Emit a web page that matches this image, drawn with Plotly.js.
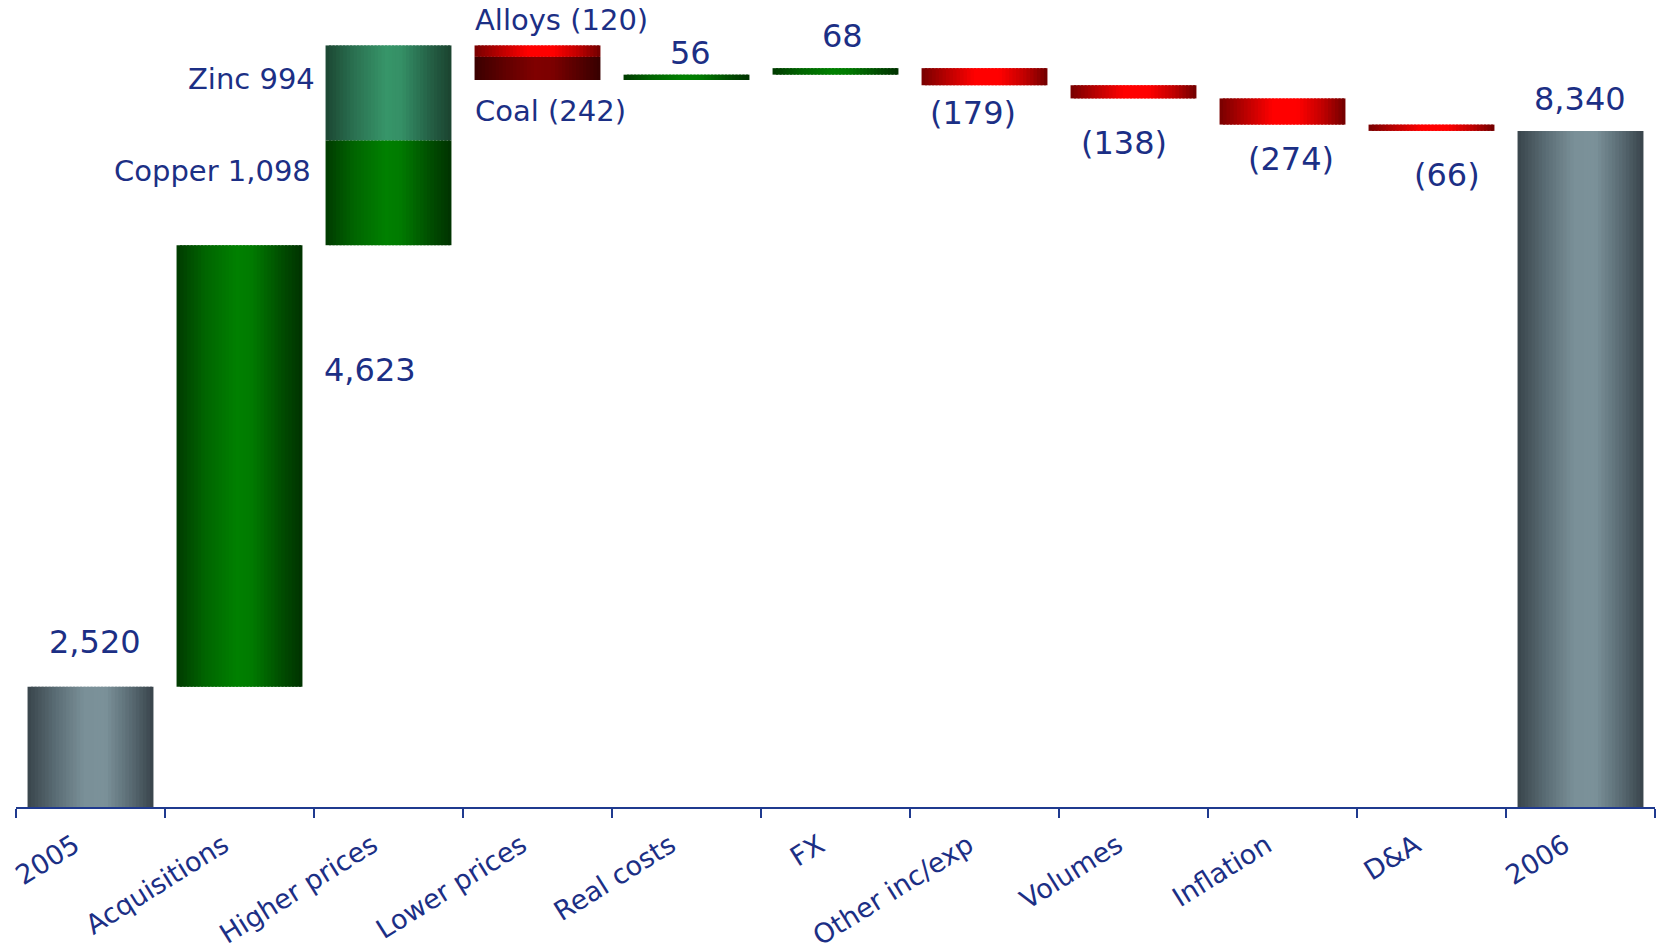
<!DOCTYPE html>
<html>
<head>
<meta charset="utf-8">
<script src="https://cdn.plot.ly/plotly-3.0.1.min.js"></script>
<style>
  html, body { margin: 0; padding: 0; background: #ffffff; }
  #chart { width: 1657px; height: 952px; }
</style>
</head>
<body>
<div id="chart"></div>
<script>
// ---------------- DATA ----------------
const categories = ['2005', 'Acquisitions', 'Higher prices', 'Lower prices', 'Real costs', 'FX',
                    'Other inc/exp', 'Volumes', 'Inflation', 'D&A', '2006'];
const values = [2520, 4623, 2092, -362, 56, 68, -179, -138, -274, -66, 8340];
const isTotal = [true, false, false, false, false, false, false, false, false, false, true];

// break-down of the two price bars
const higherPriceNames = ['Copper', 'Zinc'];
const higherPriceParts = [1098, 994];
const lowerPriceNames = ['Alloys', 'Coal'];
const lowerPriceParts = [-120, -242];

// ---------------- STYLE / LAYOUT HELPERS ----------------
const TEXT_COLOR = '#1c2f85';
const AXIS_COLOR = '#1f3a8f';
const FONT = 'DejaVu Sans, Verdana, sans-serif';
const BAR_W = 0.845;
const STRIPS = 36;

const palettes = {
  gray:  [[0, '#39444b'], [0.22, '#5a6c74'], [0.45, '#7a9098'], [0.62, '#7b9199'], [0.84, '#56676f'], [1, '#38434a']],
  green: [[0, '#003a00'], [0.22, '#006400'], [0.48, '#008000'], [0.6, '#007a00'], [0.84, '#004c00'], [1, '#003200']],
  teal:  [[0, '#1b4632'], [0.22, '#2a7050'], [0.48, '#379569'], [0.6, '#359066'], [0.84, '#245e44'], [1, '#1b432f']],
  red:   [[0, '#780000'], [0.25, '#c80000'], [0.42, '#ff0000'], [0.62, '#ff0000'], [0.82, '#c00000'], [1, '#700000']],
  dark:  [[0, '#3a0000'], [0.25, '#620000'], [0.48, '#800000'], [0.62, '#7c0000'], [0.84, '#530000'], [1, '#360000']]
};
const partPalette = { Copper: 'green', Zinc: 'teal', Alloys: 'red', Coal: 'dark' };

function hexToRgb(h) { return [1, 3, 5].map(i => parseInt(h.substr(i, 2), 16)); }
function colorAt(pal, t) {
  const stops = palettes[pal];
  for (let k = 0; k < stops.length - 1; k++) {
    const [t0, c0] = stops[k], [t1, c1] = stops[k + 1];
    if (t >= t0 && t <= t1) {
      const f = (t - t0) / (t1 - t0 || 1);
      const a = hexToRgb(c0), b = hexToRgb(c1);
      const c = a.map((v, j) => Math.round(v + (b[j] - v) * f));
      return 'rgb(' + c.join(',') + ')';
    }
  }
  return stops[stops.length - 1][1];
}
function fmt(v) {
  const s = Math.abs(v).toLocaleString('en-US');
  return v < 0 ? '(' + s + ')' : s;
}

// ---------------- BUILD SEGMENTS FROM DATA ----------------
const segments = [];
let running = 0;
categories.forEach((cat, i) => {
  if (isTotal[i]) {
    segments.push({ i, base: 0, height: values[i], pal: 'gray', start: 0, end: values[i] });
    running = values[i];
    return;
  }
  let parts = null, names = null;
  if (cat === 'Higher prices') { parts = higherPriceParts; names = higherPriceNames; }
  if (cat === 'Lower prices')  { parts = lowerPriceParts;  names = lowerPriceNames; }
  if (parts) {
    parts.forEach((p, k) => {
      const s = running, e = running + p;
      segments.push({ i, base: Math.min(s, e), height: Math.abs(p), pal: partPalette[names[k]],
                      start: s, end: e, part: names[k], value: p });
      running = e;
    });
  } else {
    const s = running, e = running + values[i];
    segments.push({ i, base: Math.min(s, e), height: Math.abs(values[i]), pal: values[i] >= 0 ? 'green' : 'red',
                    start: s, end: e });
    running = e;
  }
});

// ---------------- TRACES: each bar drawn as vertical strips for a cylinder shading ----------------
const traces = [];
const stripW = BAR_W / STRIPS;
for (let k = 0; k < STRIPS; k++) {
  const t = (k + 0.5) / STRIPS;
  traces.push({
    type: 'bar',
    x: segments.map(s => categories[s.i]),
    y: segments.map(s => s.height),
    base: segments.map(s => s.base),
    width: k < STRIPS - 1 ? stripW * 1.6 : stripW,
    offset: -BAR_W / 2 + k * stripW,
    marker: { color: segments.map(s => colorAt(s.pal, t)), line: { width: 0 } },
    hoverinfo: 'skip',
    showlegend: false
  });
}

// ---------------- LABELS ----------------
// pixel offsets of each value label (layout tuning)
const labelDx = [4, 20, 0, 0, 4, 7, -12, -10, 8, 15, -1];
const labelDy = [45, -125, 0, 0, 22, 32, -28, -45, -34, -44, 32];
const annotations = [];
categories.forEach((cat, i) => {
  const segs = segments.filter(s => s.i === i);
  if (segs.some(s => s.part)) return;
  const s = segs[0];
  const top = s.base + s.height, bottom = s.base;
  const ann = { text: fmt(values[i]), showarrow: false, xref: 'x', yref: 'y',
                font: { size: 32, color: TEXT_COLOR, family: FONT }, yanchor: 'middle' };
  if (cat === 'Acquisitions') {
    ann.x = i + BAR_W / 2; ann.xanchor = 'left'; ann.y = top;
  } else if (isTotal[i] || values[i] >= 0) {
    ann.x = i; ann.xanchor = 'center'; ann.y = top;
  } else {
    ann.x = i; ann.xanchor = 'center'; ann.y = bottom;
  }
  ann.xshift = labelDx[i]; ann.yshift = labelDy[i];
  annotations.push(ann);
});
// part labels
const partLabelSide = { Copper: 'left', Zinc: 'left', Alloys: 'right', Coal: 'right' };
const partAnchor = { Copper: 'top', Zinc: 'top', Alloys: 'top', Coal: 'bottom' };
const partDx = { Copper: -13, Zinc: -9, Alloys: -2, Coal: -2 };
const partDy = { Copper: -31, Zinc: -34, Alloys: 25, Coal: -31 };
segments.filter(s => s.part).forEach(s => {
  const left = partLabelSide[s.part] === 'left';
  annotations.push({
    text: s.part + ' ' + fmt(s.value), showarrow: false, xref: 'x', yref: 'y',
    x: s.i - BAR_W / 2,
    xanchor: left ? 'right' : 'left',
    y: partAnchor[s.part] === 'top' ? s.base + s.height : s.base,
    yanchor: 'middle',
    xshift: partDx[s.part], yshift: partDy[s.part],
    font: { size: 29, color: TEXT_COLOR, family: FONT }
  });
});

const layout = {
  width: 1657, height: 952,
  margin: { l: 16, r: 2, t: 10, b: 145 },
  paper_bgcolor: '#ffffff', plot_bgcolor: '#ffffff',
  barmode: 'overlay',
  font: { family: FONT, color: TEXT_COLOR },
  showlegend: false,
  xaxis: {
    type: 'category', categoryarray: categories, categoryorder: 'array',
    range: [-0.5, 10.5],
    tickson: 'boundaries', ticks: 'outside', ticklen: 9, tickwidth: 2, tickcolor: AXIS_COLOR,
    showline: true, linecolor: AXIS_COLOR, linewidth: 2,
    showgrid: false, zeroline: false,
    tickangle: -32,
    ticklabelstandoff: 10,
    ticklabelshift: -16,
    tickfont: { size: 27, color: TEXT_COLOR, family: FONT },
    fixedrange: true,
    automargin: false
  },
  yaxis: {
    range: [1260.3, 9606], visible: false, showgrid: false, zeroline: false, fixedrange: true
  },
  annotations: annotations
};

Plotly.newPlot('chart', traces, layout, { staticPlot: true, displayModeBar: false });
</script>
</body>
</html>
